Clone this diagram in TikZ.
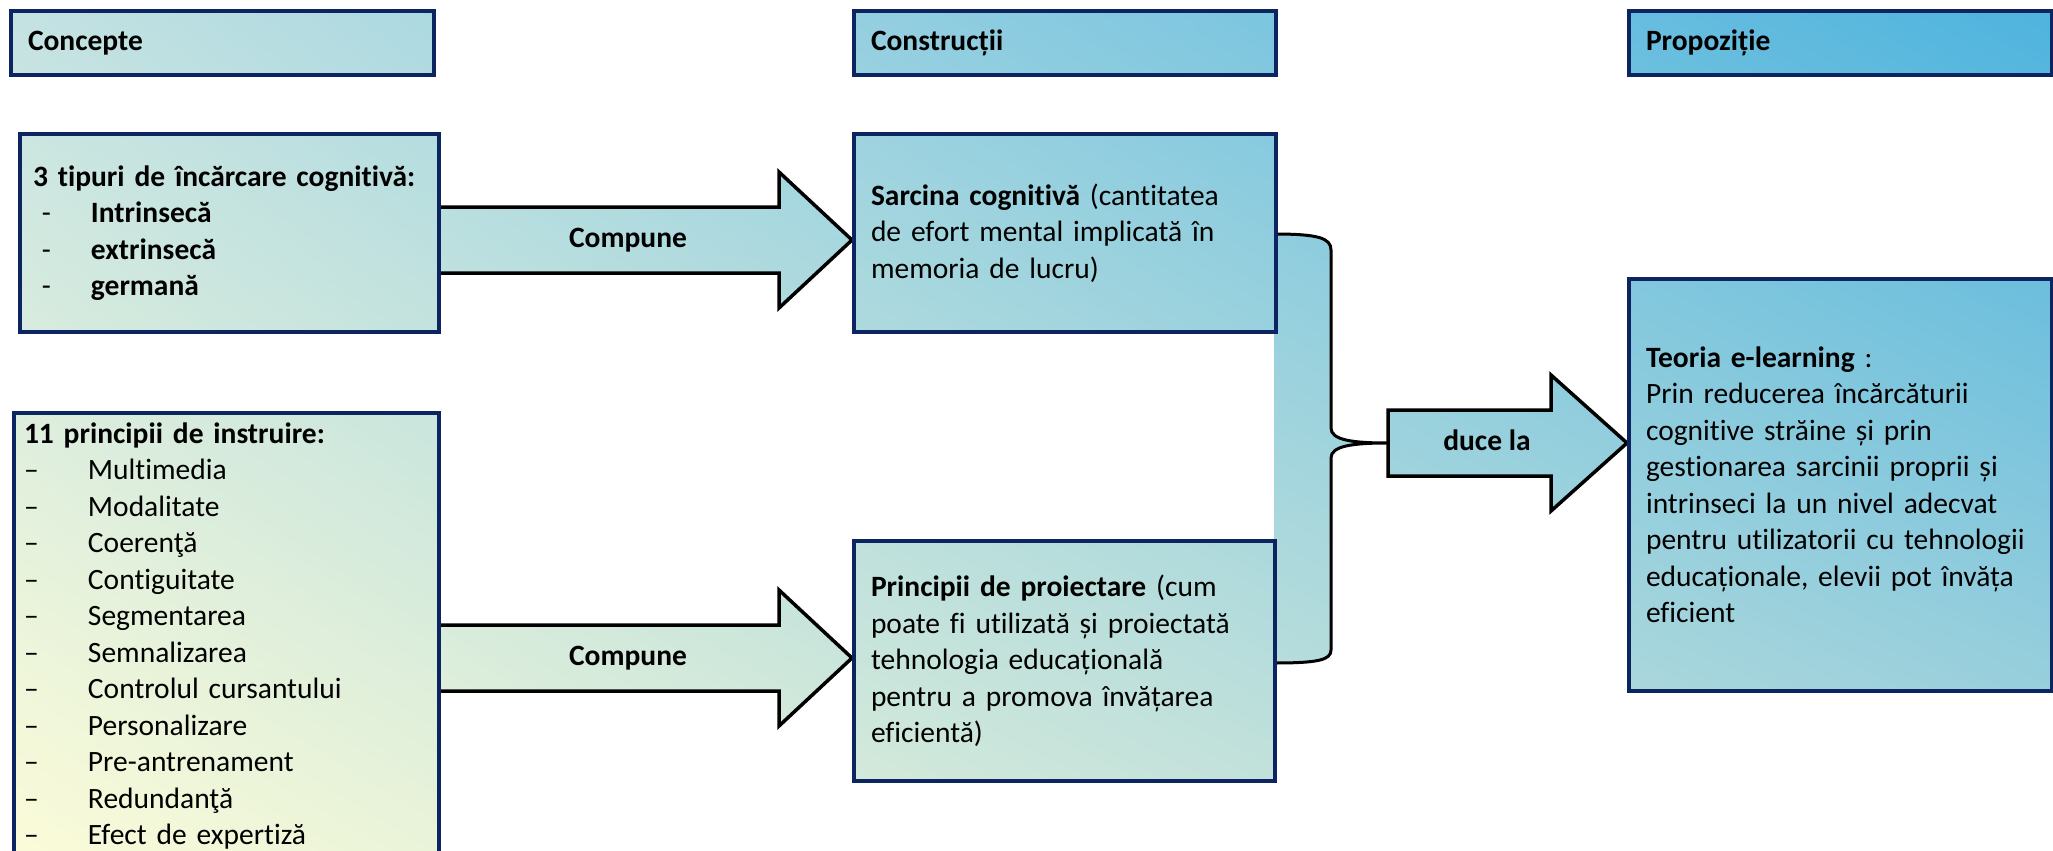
\documentclass[tikz,border=0pt]{standalone}
\usepackage{fontspec}
\setmainfont[Ligatures={NoCommon}]{Carlito}
\usetikzlibrary{calc,backgrounds,shadings}

\definecolor{boxline}{HTML}{0C2460}
\definecolor{gradul}{HTML}{C4E2E2}
\definecolor{gradur}{HTML}{4DB3DE}
\definecolor{gradll}{HTML}{FCFCD8}
\definecolor{gradlr}{HTML}{A9D5DC}

\tikzset{
  gradfill/.style={path picture={\shade[upper left=gradul,upper right=gradur,
      lower left=gradll,lower right=gradlr] (sheet nw) rectangle (sheet se);}},
  conceptbox/.style={draw=boxline, line width=4pt, gradfill, anchor=north west,
      align=left, inner xsep=17pt, inner ysep=4pt},
  blockarrow/.style={draw=black, line width=3.5pt, line join=miter, gradfill},
  arrowlabel/.style={inner sep=0pt},
}

\begin{document}
\begin{tikzpicture}[x=1pt, y=-1pt, font=\fontsize{29.5pt}{36.5pt}\selectfont]
            \useasboundingbox (0,0) rectangle (2053,851);
            \coordinate (sheet nw) at (0,0);
            \coordinate (sheet se) at (2053,851);

            % Column headers
            \node [conceptbox, text width=389, minimum height=64] (hconc) at (9,9) {\textbf{Concepte}};
            \node [conceptbox, text width=388, minimum height=64] (hcons) at (852,9) {\textbf{Construcții}};
            \node [conceptbox, text width=389, minimum height=64] (hprop) at (1627,9) {\textbf{Propoziție}};

            % Concept boxes
            \node [conceptbox, inner xsep=13pt, text width=393, minimum height=198] (tip) at (18,132) {%
              \textbf{3 tipuri de încărcare cognitivă:}\\
              \hspace*{9pt}\makebox[49pt][l]{-}\textbf{Intrinsecă}\\
              \hspace*{9pt}\makebox[49pt][l]{-}\textbf{extrinsecă}\\
              \hspace*{9pt}\makebox[49pt][l]{-}\textbf{germană}};
            \node [conceptbox, inner xsep=10pt, text width=405, minimum height=446] (princ) at (12,411) {%
              \textbf{11 principii de instruire:}\\
              \makebox[64pt][l]{–}Multimedia\\
              \makebox[64pt][l]{–}Modalitate\\
              \makebox[64pt][l]{–}Coerenţă\\
              \makebox[64pt][l]{–}Contiguitate\\
              \makebox[64pt][l]{–}Segmentarea\\
              \makebox[64pt][l]{–}Semnalizarea\\
              \makebox[64pt][l]{–}Controlul cursantului\\
              \makebox[64pt][l]{–}Personalizare\\
              \makebox[64pt][l]{–}Pre-antrenament\\
              \makebox[64pt][l]{–}Redundanţă\\
              \makebox[64pt][l]{–}Efect de expertiză};

            % Construct boxes
            \node [conceptbox, text width=388, minimum height=198] (sarc) at (852,132) {%
              \textbf{Sarcina cognitivă} (cantitatea\\
              de efort mental implicată în\\
              memoria de lucru)};
            \node [conceptbox, text width=387, minimum height=240] (proi) at (852,539) {%
              \textbf{Principii de proiectare} (cum\\
              poate fi utilizată și proiectată\\
              tehnologia educațională\\
              pentru a promova învățarea\\
              eficientă)};

            % Proposition box
            \node [conceptbox, text width=389, minimum height=412] (teo) at (1627,277) {%
              \textbf{Teoria e-learning} :\\
              Prin reducerea încărcăturii\\
              cognitive străine și prin\\
              gestionarea sarcinii proprii și\\
              intrinseci la un nivel adecvat\\
              pentru utilizatorii cu tehnologii\\
              educaționale, elevii pot învăța\\
              eficient};

            % Arrow ends
            \coordinate (a1s) at ($(tip.east)+(0,7)$);
            \coordinate (a1e) at ($(sarc.west)+(0,7)$);
            \coordinate (a2e) at ($(proi.west)+(0,-3)$);
            \coordinate (a2s) at (princ.east |- a2e);
            \coordinate (brtip) at (1388,443);
            \coordinate (a3e) at (teo.west |- brtip);

            \begin{scope}[on background layer]
            % Drawing arrow tip -> sarc
            \draw [blockarrow] ($(a1s)+(0,-33)$) -- ($(a1e)+(-73,-33)$) -- ($(a1e)+(-73,-68)$) -- (a1e)
                -- ($(a1e)+(-73,68)$) -- ($(a1e)+(-73,33)$) -- ($(a1s)+(0,33)$);
            % Drawing arrow princ -> proi
            \draw [blockarrow] ($(a2s)+(0,-33)$) -- ($(a2e)+(-73,-33)$) -- ($(a2e)+(-73,-68)$) -- (a2e)
                -- ($(a2e)+(-73,68)$) -- ($(a2e)+(-73,33)$) -- ($(a2s)+(0,33)$);
            % Drawing brace sarc/proi
            \draw [blockarrow, line width=3pt] (1274,234) .. controls (1318,234) and (1331,238) .. (1331,250)
                -- (1331,428) .. controls (1331,440) and (1352,443) .. (brtip)
                .. controls (1352,443) and (1331,446) .. (1331,458)
                -- (1331,650) .. controls (1331,660) and (1318,663) .. (1274,663);
            % Drawing arrow brace -> teo
            \draw [blockarrow] ($(brtip)+(0,-33)$) -- ($(a3e)+(-76,-33)$) -- ($(a3e)+(-76,-68)$) -- (a3e)
                -- ($(a3e)+(-76,68)$) -- ($(a3e)+(-76,33)$) -- ($(brtip)+(0,33)$) -- cycle;
            \end{scope}

            % Arrow labels
            \node [arrowlabel] (lbl1) at ($(a1s)!0.455!(a1e)$) {\textbf{Compune}};
            \node [arrowlabel] (lbl2) at ($(a2s)!0.455!(a2e)$) {\textbf{Compune}};
            \node [arrowlabel] (lbl3) at ($(brtip)!0.414!(a3e)+(0,-3)$) {\textbf{duce la}};
\end{tikzpicture}
\end{document}
